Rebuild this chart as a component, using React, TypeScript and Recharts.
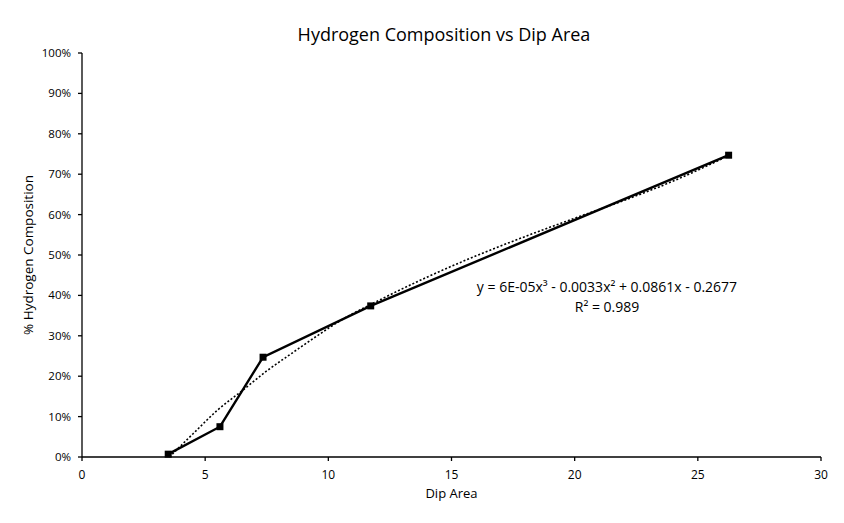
import React from "react";
import {
  ComposedChart,
  Line,
  XAxis,
  YAxis,
} from "recharts";

// measured points (Dip Area vs hydrogen fraction)
const dipArea = [3.5, 5.6, 7.35, 11.72, 26.25];
const hydrogen = [0.007, 0.075, 0.247, 0.374, 0.747];

// dotted poly trendline
const trendX = [3.55, 4.5, 5.5, 6.5, 7.5, 8.5, 9.5, 10.5, 12, 14, 16, 18, 20, 22, 24, 26.25];
const trendY = [0.0, 0.057, 0.116, 0.164, 0.213, 0.256, 0.298, 0.338, 0.386, 0.445, 0.498, 0.546, 0.591, 0.635, 0.683, 0.746];

const xTicks = [0, 5, 10, 15, 20, 25, 30];
const yTicks = [0, 0.1, 0.2, 0.3, 0.4, 0.5, 0.6, 0.7, 0.8, 0.9, 1];

const points = dipArea.map((x, i) => ({ x, y: hydrogen[i] }));
const trend = trendX.map((x, i) => ({ x, y: trendY[i] }));

const font = "'Open Sans', 'Liberation Sans', sans-serif";

const SquareDot = (props: any) => {
  const { cx, cy } = props;
  if (cx == null || cy == null) return null;
  return <rect x={cx - 3.5} y={cy - 3.5} width={7} height={7} fill="#000" />;
};

export default function App() {
  return (
    <div style={{ position: "absolute", left: 0, top: 0, width: 844, height: 523, background: "#fff", fontFamily: font }}>
      <ComposedChart
        width={844}
        height={523}
        margin={{ top: 53, right: 23, bottom: 36, left: 0 }}
      >
        <XAxis
          type="number"
          dataKey="x"
          domain={[0, 30]}
          ticks={xTicks}
          allowDataOverflow
          stroke="#000"
          strokeWidth={1.3}
          tickSize={4}
          tickMargin={9}
          height={30}
          tick={{ fill: "#000", fontSize: 12, fontFamily: font }}
        />
        <YAxis
          type="number"
          dataKey="y"
          domain={[0, 1]}
          ticks={yTicks}
          width={82}
          stroke="#000"
          strokeWidth={1.3}
          tickSize={4}
          tickMargin={7}
          tickFormatter={(v: number) => `${Math.round(v * 100)}%`}
          tick={{ fill: "#000", fontSize: 11.5, fontFamily: font }}
        />
        <Line
          data={trend}
          dataKey="y"
          type="monotone"
          stroke="#000"
          strokeWidth={1.6}
          strokeDasharray="2 2"
          dot={false}
          isAnimationActive={false}
        />
        <Line
          data={points}
          dataKey="y"
          type="linear"
          stroke="#000"
          strokeWidth={2.4}
          dot={<SquareDot />}
          isAnimationActive={false}
        />
      </ComposedChart>
      <div style={{ position: "absolute", left: 0, width: 888, top: 22, textAlign: "center", fontSize: 18, color: "#000" }}>
        Hydrogen Composition vs Dip Area
      </div>
      <div style={{ position: "absolute", left: 82, width: 739, top: 484, textAlign: "center", fontSize: 13, color: "#000" }}>
        Dip Area
      </div>
      <div
        style={{
          position: "absolute",
          left: 28,
          top: 255,
          transform: "translate(-50%, -50%) rotate(-90deg)",
          whiteSpace: "nowrap",
          fontSize: 13.5,
          color: "#000",
        }}
      >
        % Hydrogen Composition
      </div>
      <div style={{ position: "absolute", left: 407, width: 400, top: 277, textAlign: "center", fontSize: 14, lineHeight: "20px", color: "#000" }}>
        y = 6E-05x³ - 0.0033x² + 0.0861x - 0.2677
        <br />
        R² = 0.989
      </div>
    </div>
  );
}
